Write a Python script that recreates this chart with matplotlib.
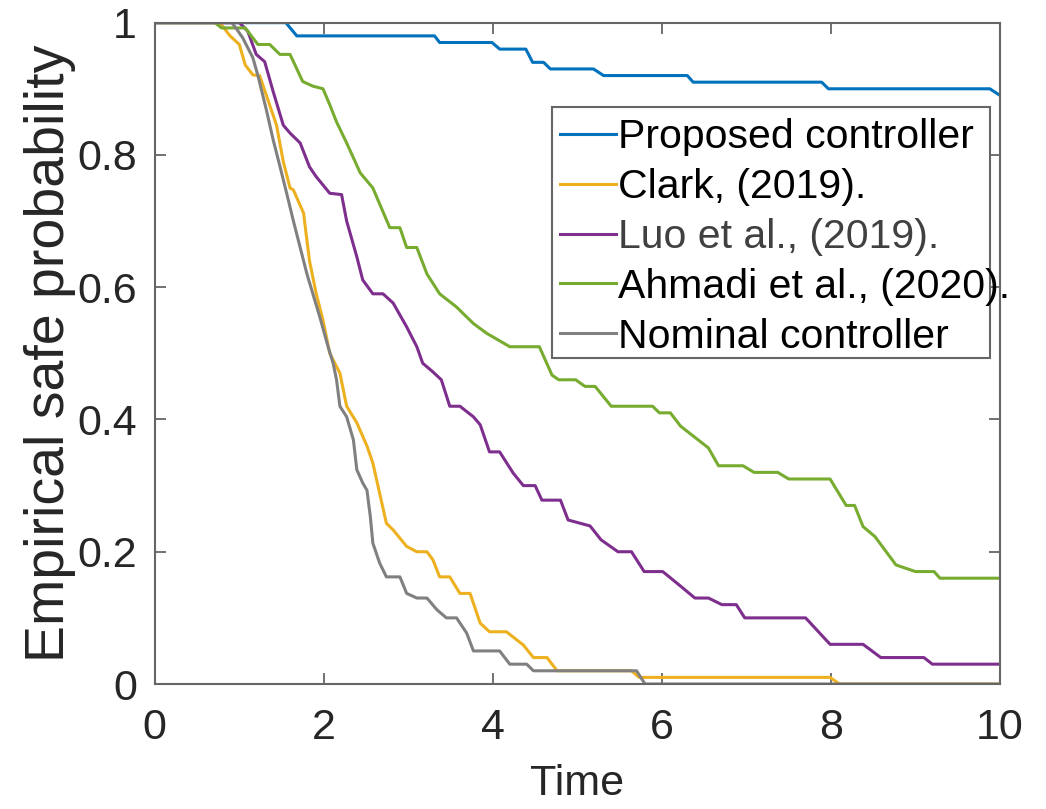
import matplotlib
matplotlib.use("Agg")
import matplotlib.pyplot as plt
from matplotlib.patches import Rectangle

plt.rcParams['font.family'] = ['Liberation Sans', 'DejaVu Sans']

# Proposed controller
prop_t = [0, 1.55, 1.68, 3.31, 3.37, 3.99, 4.08, 4.39, 4.47, 4.6, 4.68, 5.19, 5.31,
          6.30, 6.37, 7.89, 7.97, 9.88, 10]
prop_p = [1, 1, 0.98, 0.98, 0.97, 0.97, 0.96, 0.96, 0.94, 0.94, 0.93, 0.93, 0.92,
          0.92, 0.91, 0.91, 0.90, 0.90, 0.89]

# Clark, (2019).
clark_t = [0, 0.77, 0.89, 1.0, 1.07, 1.16, 1.24, 1.32, 1.44, 1.52, 1.6, 1.64, 1.76,
           1.83, 1.91, 1.99, 2.07, 2.19, 2.27, 2.39, 2.51, 2.58, 2.74, 2.82, 2.98,
           3.1, 3.22, 3.29, 3.37, 3.49, 3.61, 3.73, 3.85, 3.96, 4.16, 4.36, 4.48,
           4.64, 4.76, 5.64, 5.73, 7.99, 8.1, 10]
clark_p = [1, 1, 0.98, 0.967, 0.936, 0.921, 0.92, 0.89, 0.845, 0.79, 0.75, 0.747,
           0.712, 0.64, 0.59, 0.55, 0.50, 0.47, 0.42, 0.395, 0.36, 0.334, 0.243,
           0.233, 0.208, 0.20, 0.20, 0.188, 0.162, 0.162, 0.137, 0.137, 0.092,
           0.079, 0.079, 0.059, 0.04, 0.04, 0.02, 0.02, 0.01, 0.01, 0, 0]

# Luo et al., (2019).
luo_t = [0, 1.0, 1.1, 1.2, 1.3, 1.4, 1.52, 1.6, 1.72, 1.83, 1.91, 2.07, 2.21, 2.27,
         2.39, 2.46, 2.58, 2.7, 2.82, 2.98, 3.1, 3.17, 3.29, 3.39, 3.49, 3.61, 3.77,
         3.85, 3.96, 4.08, 4.24, 4.36, 4.5, 4.58, 4.8, 4.89, 5.15, 5.28, 5.48, 5.64,
         5.79, 6.01, 6.23, 6.39, 6.55, 6.71, 6.88, 6.98, 7.7, 7.99, 8.38, 8.59, 9.1,
         9.2, 10]
luo_p = [1, 1, 0.987, 0.952, 0.941, 0.896, 0.845, 0.833, 0.818, 0.782, 0.767, 0.742,
         0.74, 0.70, 0.646, 0.611, 0.59, 0.59, 0.576, 0.54, 0.51, 0.485, 0.472,
         0.46, 0.42, 0.42, 0.404, 0.392, 0.351, 0.351, 0.319, 0.30, 0.30, 0.278,
         0.278, 0.248, 0.239, 0.218, 0.20, 0.20, 0.17, 0.17, 0.147, 0.13, 0.13,
         0.12, 0.12, 0.10, 0.10, 0.06, 0.06, 0.04, 0.04, 0.03, 0.03]

# Ahmadi et al., (2020).
ahm_t = [0, 0.71, 0.79, 1.07, 1.22, 1.36, 1.48, 1.6, 1.75, 1.87, 1.99, 2.07, 2.15,
         2.27, 2.43, 2.58, 2.78, 2.9, 2.98, 3.1, 3.22, 3.37, 3.57, 3.77, 3.93, 4.2,
         4.55, 4.7, 4.78, 4.98, 5.09, 5.21, 5.4, 5.89, 5.97, 6.1, 6.22, 6.55, 6.67,
         6.96, 7.09, 7.37, 7.5, 7.99, 8.18, 8.28, 8.38, 8.52, 8.77, 9.0, 9.22, 9.29,
         10]
ahm_p = [1, 1, 0.992, 0.992, 0.967, 0.967, 0.952, 0.952, 0.911, 0.904, 0.90, 0.876,
         0.85, 0.818, 0.773, 0.75, 0.69, 0.69, 0.66, 0.66, 0.62, 0.59, 0.57, 0.545,
         0.53, 0.51, 0.51, 0.467, 0.46, 0.46, 0.45, 0.45, 0.42, 0.42, 0.41, 0.41,
         0.39, 0.357, 0.33, 0.33, 0.32, 0.32, 0.31, 0.31, 0.27, 0.27, 0.238, 0.223,
         0.18, 0.17, 0.17, 0.16, 0.16]

# Nominal controller
nom_t = [0, 0.91, 0.97, 1.04, 1.16, 1.22, 1.32, 1.4, 1.48, 1.56, 1.64, 1.72, 1.8,
         1.87, 1.95, 2.05, 2.11, 2.15, 2.19, 2.27, 2.35, 2.39, 2.46, 2.51, 2.55,
         2.58, 2.66, 2.74, 2.9, 2.98, 3.1, 3.22, 3.34, 3.45, 3.57, 3.69, 3.77, 4.08,
         4.2, 4.4, 4.48, 5.7, 5.8, 10]
nom_p = [1, 1, 0.99, 0.977, 0.947, 0.92, 0.868, 0.823, 0.783, 0.742, 0.70, 0.66,
         0.62, 0.59, 0.556, 0.51, 0.485, 0.46, 0.42, 0.404, 0.369, 0.324, 0.304,
         0.293, 0.253, 0.213, 0.183, 0.162, 0.162, 0.137, 0.13, 0.13, 0.112, 0.10,
         0.10, 0.077, 0.05, 0.05, 0.03, 0.03, 0.02, 0.02, 0, 0]

x_ticks = [0, 2, 4, 6, 8, 10]
y_ticks = [0, 0.2, 0.4, 0.6, 0.8, 1]
y_tick_labels = ['0', '0.2', '0.4', '0.6', '0.8', '1']

fig = plt.figure(figsize=(10.46, 8.09), dpi=100)
ax = fig.add_axes([0.148, 0.1545, 0.808, 0.8175])

lw = 2.2
ax.plot(prop_t, prop_p, color='#0072BD', lw=lw, label='Proposed controller')
ax.plot(clark_t, clark_p, color='#EDB120', lw=lw, label='Clark, (2019).')
ax.plot(luo_t, luo_p, color='#7E2F8E', lw=lw, label='Luo et al., (2019).')
ax.plot(ahm_t, ahm_p, color='#77AC30', lw=lw, label='Ahmadi et al., (2020).')
ax.plot(nom_t, nom_p, color='#808080', lw=lw, label='Nominal controller')

ax.set_xlim(0, 10)
ax.set_ylim(0, 1)
ax.set_xticks(x_ticks)
ax.set_yticks(y_ticks)
ax.set_yticklabels(y_tick_labels)

for s in ax.spines.values():
    s.set_color('#666666')
    s.set_linewidth(1.5)
ax.tick_params(direction='in', top=True, right=True, length=8, width=1.3,
               color='#666666', labelsize=31, labelcolor='#262626')
ax.tick_params(axis='x', pad=17)
ax.tick_params(axis='y', pad=13)

ax.set_xlabel('Time', fontsize=31, color='#262626', labelpad=12)
ax.set_ylabel('Empirical safe probability', fontsize=40, color='#262626', labelpad=1)

# legend box drawn by hand (MATLAB draws it narrower than the text)
box = Rectangle((0.470, 0.493), 0.518, 0.380, transform=ax.transAxes,
                facecolor='white', edgecolor='#666666', lw=1.5, zorder=4)
ax.add_patch(box)
leg = ax.legend(loc='upper left', bbox_to_anchor=(0.47, 0.868), fontsize=29.5,
                frameon=False, handlelength=1.35, handletextpad=0.05,
                labelspacing=0.29, borderpad=0.2, borderaxespad=0)
leg.set_zorder(5)
leg.get_texts()[2].set_color('#404040')

fig.savefig('out.png', dpi=100)
